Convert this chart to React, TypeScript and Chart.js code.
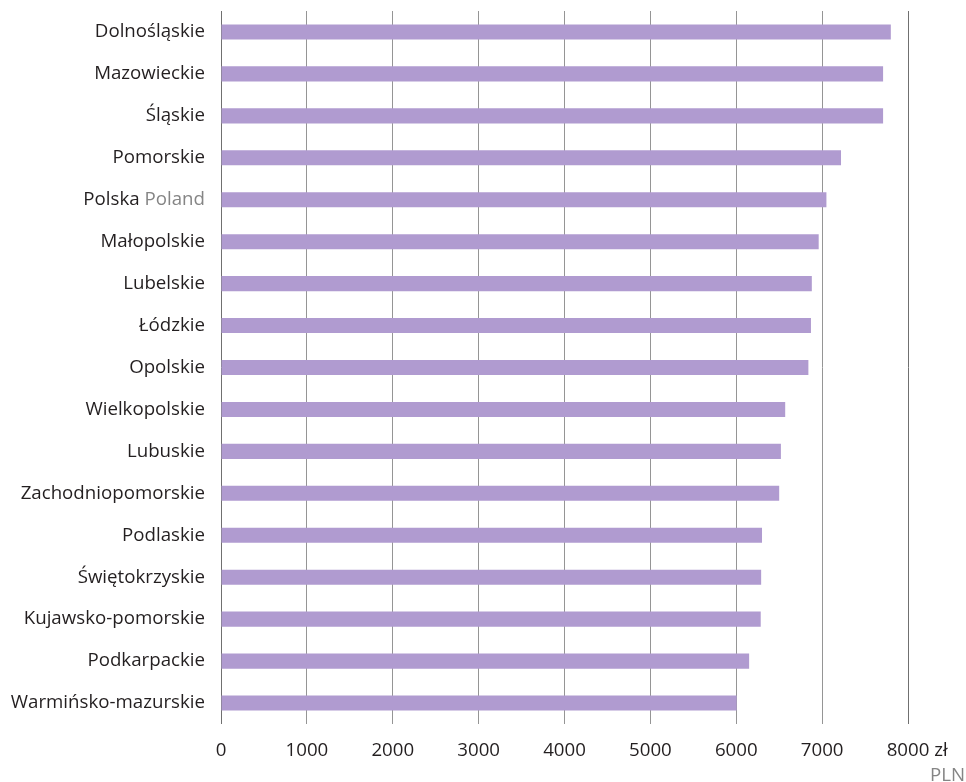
import React, { useEffect, useRef } from "react";
import { Chart, registerables } from "chart.js";

Chart.register(...registerables);

const categories = [
  "Dolnośląskie",
  "Mazowieckie",
  "Śląskie",
  "Pomorskie",
  "Polska Poland",
  "Małopolskie",
  "Lubelskie",
  "Łódzkie",
  "Opolskie",
  "Wielkopolskie",
  "Lubuskie",
  "Zachodniopomorskie",
  "Podlaskie",
  "Świętokrzyskie",
  "Kujawsko-pomorskie",
  "Podkarpackie",
  "Warmińsko-mazurskie",
];

const values = [7800, 7710, 7710, 7220, 7050, 6960, 6880, 6870, 6840, 6570, 6520, 6500, 6300, 6290, 6285, 6150, 6005];

const xTicks = [0, 1000, 2000, 3000, 4000, 5000, 6000, 7000, 8000];
const unitLabel = " zł";
const unitLabelEn = "PLN";
const polskaPl = "Polska ";
const polskaEn = "Poland";

const FONT_FAMILY = "'Open Sans', sans-serif";
const FONT_SIZE = 18.7;
const TEXT = "#231f20";
const GRAY_TEXT = "#858585";
const BAR = "#b09bd0";

const labelPlugin = {
  id: "customLabels",
  afterDraw(chart: any) {
    const ctx = chart.ctx;
    const xs = chart.scales.x;
    const ys = chart.scales.y;
    ctx.save();
    ctx.font = `${FONT_SIZE}px ${FONT_FAMILY}`;
    const yItems = ys.getLabelItems();
    const pIdx = categories.indexOf(polskaPl + polskaEn);
    const pItem = yItems[pIdx];
    if (pItem) {
      const x = pItem.options.translation[0];
      const y = pItem.options.translation[1] + pItem.textOffset;
      ctx.textBaseline = pItem.options.textBaseline;
      ctx.textAlign = "right";
      ctx.fillStyle = GRAY_TEXT;
      ctx.fillText(polskaEn, x, y);
      const w = ctx.measureText(polskaEn).width;
      ctx.fillStyle = TEXT;
      ctx.fillText(polskaPl, x - w, y);
    }
    const xItems = xs.getLabelItems();
    const last = xItems[xItems.length - 1];
    if (last) {
      const cx = last.options.translation[0];
      const y = last.options.translation[1] + last.textOffset;
      const w = ctx.measureText(String(xTicks[xTicks.length - 1])).width;
      ctx.textBaseline = last.options.textBaseline;
      ctx.textAlign = "left";
      ctx.fillStyle = TEXT;
      ctx.fillText(unitLabel, cx + w / 2, y);
      ctx.textAlign = "right";
      ctx.fillStyle = GRAY_TEXT;
      ctx.fillText(unitLabelEn, chart.width - 1, y + 25);
    }
    ctx.restore();
  },
};

export default function App() {
  const ref = useRef<HTMLCanvasElement>(null);
  useEffect(() => {
    if (!ref.current) return;
    const chart = new Chart(ref.current, {
      type: "bar",
      data: {
        labels: categories,
        datasets: [
          {
            data: values,
            backgroundColor: BAR,
            borderWidth: 0,
            barPercentage: 0.36,
            categoryPercentage: 1,
          },
        ],
      },
      options: {
        indexAxis: "y",
        responsive: false,
        animation: false,
        layout: { padding: { top: 11, right: 58, bottom: 0, left: 0 } },
        plugins: { legend: { display: false }, tooltip: { enabled: false } },
        scales: {
          x: {
            min: 0,
            max: 8000,
            afterFit(scale: any) {
              scale.height = 58;
              scale.paddingLeft = 0;
              scale.paddingRight = 0;
            },
            afterBuildTicks(scale: any) {
              scale.ticks = xTicks.map((v) => ({ value: v }));
            },
            grid: {
              drawTicks: false,
              color: (c: any) => (c.tick && (c.tick.value === 0 || c.tick.value === 8000) ? "#707070" : "#959595"),
              lineWidth: 1,
            },
            border: { display: false },
            ticks: {
              padding: 15,
              color: TEXT,
              font: { family: FONT_FAMILY, size: FONT_SIZE },
              maxRotation: 0,
              callback: (v: any) => String(v),
            },
          },
          y: {
            afterFit(scale: any) {
              scale.width = 221;
              scale.paddingTop = 0;
              scale.paddingBottom = 0;
            },
            grid: { display: false, drawTicks: false },
            border: { display: false },
            ticks: {
              padding: 16,
              color: (c: any) => (c.index === 4 ? "rgba(0,0,0,0)" : TEXT),
              font: { family: FONT_FAMILY, size: FONT_SIZE },
            },
          },
        },
      },
      plugins: [labelPlugin],
    });
    return () => chart.destroy();
  }, []);
  return (
    <div style={{ position: "absolute", left: 0, top: 0, width: 966, height: 782 }}>
      <canvas ref={ref} width={966} height={782} />
    </div>
  );
}
